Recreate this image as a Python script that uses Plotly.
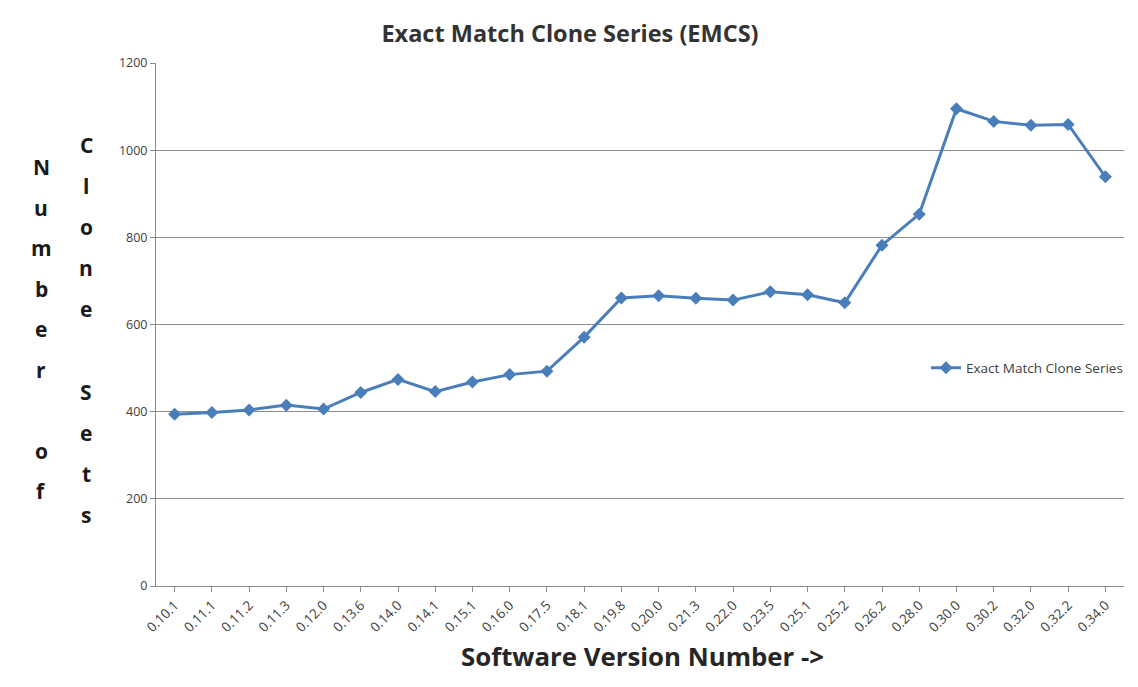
import plotly.graph_objects as go

versions = ["0.10.1", "0.11.1", "0.11.2", "0.11.3", "0.12.0", "0.13.6", "0.14.0",
            "0.14.1", "0.15.1", "0.16.0", "0.17.5", "0.18.1", "0.19.8", "0.20.0",
            "0.21.3", "0.22.0", "0.23.5", "0.25.1", "0.25.2", "0.26.2", "0.28.0",
            "0.30.0", "0.30.2", "0.32.0", "0.32.2", "0.34.0"]
clone_sets = [394, 398, 404, 415, 406, 444, 474, 446, 468, 485, 493, 571, 661, 666,
              660, 656, 675, 668, 650, 782, 853, 1095, 1066, 1057, 1059, 939]

y_ticks = [0, 200, 400, 600, 800, 1000, 1200]

LINE_BLUE = "#4a7ebb"
GRID = "#8c8c8c"
TEXT = "#262626"

W, H = 1138, 687
ML, MR, MT, MB = 156, 14, 63, 101
PW, PH = W - ML - MR, H - MT - MB


def px_x(x):
    return (x - ML) / PW


def px_y(y):
    return (H - MB - y) / PH


fig = go.Figure()
fig.add_trace(go.Scatter(
    x=versions, y=clone_sets, mode="lines+markers",
    name="Exact Match Clone Series",
    line=dict(color=LINE_BLUE, width=3),
    marker=dict(symbol="diamond", size=10, color=LINE_BLUE),
))

fig.update_layout(
    width=W, height=H,
    margin=dict(l=ML, r=MR, t=MT, b=MB, autoexpand=False),
    paper_bgcolor="white", plot_bgcolor="white",
    font=dict(family="Open Sans", color=TEXT),
    title=dict(text="<b>Exact Match Clone Series (EMCS)</b>",
               x=570 / W, xanchor="center", y=1 - 34 / H, yanchor="middle",
               font=dict(size=23.5, color="#333333")),
    showlegend=True,
    legend=dict(x=px_x(926), xanchor="left",
                y=px_y(368), yanchor="middle",
                bgcolor="rgba(0,0,0,0)", font=dict(size=13.5, color="#404040"),
                itemwidth=30),
)

fig.update_xaxes(
    type="category", tickangle=-45, tickfont=dict(size=13.5, color="#404040"),
    showline=True, linecolor=GRID, linewidth=1,
    ticks="outside", ticklen=5, tickcolor=GRID,
    showgrid=False, range=[-0.5, len(versions) - 0.5],
)
fig.update_yaxes(
    range=[0, 1200], tickvals=y_ticks, tickfont=dict(size=12.5, color="#404040"),
    showline=True, linecolor=GRID, linewidth=1,
    ticks="outside", ticklen=5, tickcolor=GRID,
    showgrid=True, gridcolor=GRID, gridwidth=1, zeroline=False,
)

# X-axis title
fig.add_annotation(
    text="<b>Software Version Number -></b>", xref="paper", yref="paper",
    x=px_x(642), y=px_y(656), xanchor="center", yanchor="middle", showarrow=False,
    font=dict(size=25.8, color="#262626"),
)


# Vertical stacked-letter axis title in two columns
def stack_letters(word, x_px, y_start, step):
    for i, ch in enumerate(word):
        if ch == " ":
            continue
        fig.add_annotation(
            text=f"<b>{ch}</b>", xref="paper", yref="paper",
            x=px_x(x_px), y=px_y(y_start + i * step),
            xanchor="center", yanchor="middle", showarrow=False,
            font=dict(size=21, color="#1a1a1a"),
        )


stack_letters("Number of", 41, 167, 40.5)
stack_letters("Clone Sets", 86, 145, 41.1)

fig.write_html("out.html")
